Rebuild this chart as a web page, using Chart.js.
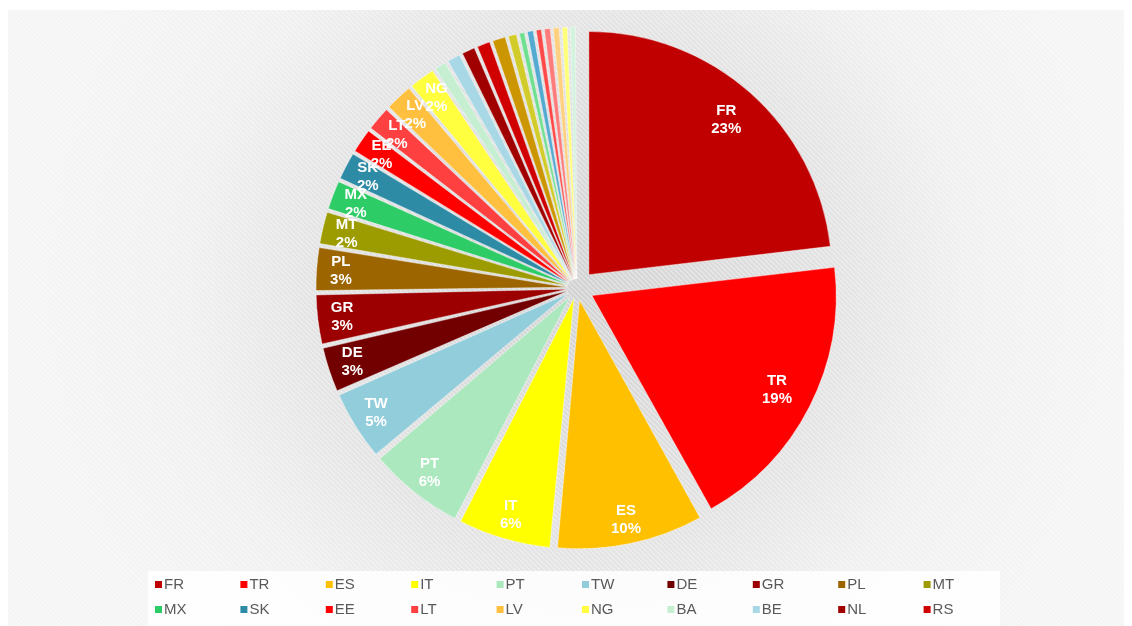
<!DOCTYPE html>
<html>
<head>
<meta charset="utf-8">
<script src="https://cdn.jsdelivr.net/npm/chart.js@4.4.1/dist/chart.umd.min.js"></script>
<style>
  html, body { margin: 0; padding: 0; background: #fff; }
  #wrap { width: 1132px; height: 626px; position: relative; }
</style>
</head>
<body>
<div id="wrap"><canvas id="pie"></canvas></div>
<script>
// country codes (the last slices have no name in the legend of the original)
const countries = ['FR', 'TR', 'ES', 'IT', 'PT', 'TW', 'DE', 'GR', 'PL', 'MT',
                   'MX', 'SK', 'EE', 'LT', 'LV', 'NG', 'BA', 'BE', 'NL', 'RS',
                   '', '', '', '', '', '', '', '', ''];
// share of each country, in %
const shares = [23.2, 18.8, 9.6, 6.1, 6.3, 4.6, 3.0, 3.3, 2.9, 2.2,
                2.0, 1.9, 1.7, 1.7, 1.9, 1.8, 0.9, 1.0, 1.0, 1.0,
                1.0, 0.7, 0.5, 0.55, 0.5, 0.55, 0.55, 0.5, 0.5];
const sliceColors = ['#C00000', '#FF0000', '#FFC000', '#FFFF00', '#ABE8BE', '#92CDDC', '#730000', '#9C0000', '#9C6500', '#9C9C00',
                     '#2ECC66', '#2E8BA6', '#FF0000', '#FF4040', '#FFC040', '#FFFF40', '#C6EFD2', '#A8D8E6', '#A00000', '#D00000',
                     '#CC9600', '#D2CC2A', '#70E090', '#55AAD2', '#FF4848', '#FF7C7C', '#FFD080', '#FFFF78', '#D4F3DE'];

const EXPLODE = 18; // px each slice is pulled out from the centre
const total = shares.reduce((a, b) => a + b, 0);

const stripePattern = (ctx) => {
  const tile = document.createElement('canvas');
  tile.width = 5;
  tile.height = 5;
  const t = tile.getContext('2d');
  t.strokeStyle = 'rgba(255,255,255,0.45)';
  t.lineWidth = 1.2;
  t.beginPath();
  t.moveTo(-1, -1); t.lineTo(6, 6);
  t.moveTo(-1, 4); t.lineTo(1, 6);
  t.moveTo(4, -1); t.lineTo(6, 1);
  t.stroke();
  return ctx.createPattern(tile, 'repeat');
};

const panel = {
  id: 'panel',
  beforeDraw(chart) {
    const { ctx, width, height } = chart;
    ctx.save();
    ctx.fillStyle = '#fff';
    ctx.fillRect(0, 0, width, height);
    const g = ctx.createRadialGradient(577, 288, 0, 577, 288, 560);
    g.addColorStop(0, '#d2d2d2');
    g.addColorStop(0.45, '#e2e2e2');
    g.addColorStop(0.7, '#f0f0f0');
    g.addColorStop(1, '#f5f5f5');
    ctx.fillStyle = g;
    ctx.fillRect(8, 10, 1116, height - 10);
    ctx.fillStyle = stripePattern(ctx);
    ctx.fillRect(8, 10, 1116, height - 10);
    // legend box
    ctx.fillStyle = 'rgba(255,255,255,0.85)';
    ctx.fillRect(148, 571, 852, 55);
    ctx.restore();
  }
};

const sliceLabels = {
  id: 'sliceLabels',
  afterDatasetsDraw(chart) {
    const { ctx } = chart;
    const meta = chart.getDatasetMeta(0);
    ctx.save();
    ctx.fillStyle = '#fff';
    ctx.font = 'bold 15px "Liberation Sans", Arial, sans-serif';
    ctx.textAlign = 'center';
    ctx.textBaseline = 'middle';
    meta.data.forEach((arc, i) => {
      const pct = shares[i] / total * 100;
      if (!countries[i] || pct < 1.5) return;
      const mid = (arc.startAngle + arc.endAngle) / 2;
      const k = pct > 15 ? 0.85 : 0.9;
      const d = EXPLODE + arc.outerRadius * k;
      const x = arc.x + Math.cos(mid) * d;
      const y = arc.y + Math.sin(mid) * d;
      ctx.fillText(countries[i], x, y - 9);
      ctx.fillText(Math.round(pct) + '%', x, y + 9);
    });
    ctx.restore();
  }
};

// legend in fixed columns, 10 per row, only named entries
const gridLegend = {
  id: 'gridLegend',
  afterDraw(chart) {
    const { ctx } = chart;
    ctx.save();
    ctx.font = '15px "Liberation Sans", Arial, sans-serif';
    ctx.textBaseline = 'middle';
    let n = 0;
    countries.forEach((name, i) => {
      if (!name) return;
      const x = 155 + (n % 10) * 85.4;
      const y = 585 + Math.floor(n / 10) * 25;
      ctx.fillStyle = sliceColors[i];
      ctx.fillRect(x, y - 4, 7, 7);
      ctx.fillStyle = '#595959';
      ctx.fillText(name, x + 9, y);
      n++;
    });
    ctx.restore();
  }
};

new Chart(document.getElementById('pie'), {
  type: 'pie',
  data: {
    labels: countries,
    datasets: [{
      data: shares,
      backgroundColor: sliceColors,
      borderColor: 'rgba(255,255,255,0.4)',
      borderWidth: 1,
      // chart.js moves an arc by offset/4 * (2 - sin(circumference))
      offset: (c) => {
        const circ = shares[c.dataIndex] / total * Math.PI * 2;
        return 4 * EXPLODE / (2 - Math.sin(Math.min(Math.PI, circ)));
      }
    }]
  },
  options: {
    responsive: true,
    maintainAspectRatio: false,
    animation: false,
    events: [],
    radius: 243,
    layout: { padding: { left: 22, right: 0, top: 0, bottom: 50 } },
    plugins: {
      legend: { display: false },
      tooltip: { enabled: false }
    }
  },
  plugins: [panel, sliceLabels, gridLegend]
});
</script>
</body>
</html>
